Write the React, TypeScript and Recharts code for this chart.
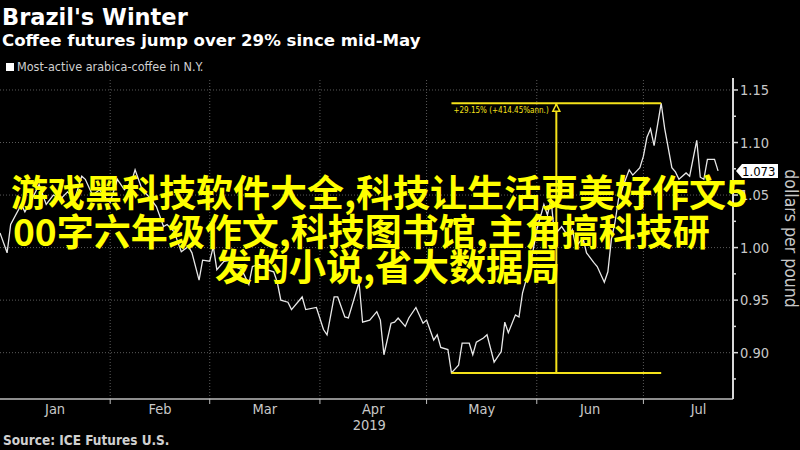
import { LineChart, Line, XAxis, YAxis, ReferenceLine, ReferenceDot } from 'recharts';

// days since Jan 1 2019, most-active arabica coffee ($/lb)
const days = [
  0, 2, 3, 6, 7, 9, 11, 13, 15, 17, 19, 21, 23, 24, 26, 28, 30, 31, 33, 35,
  37, 38, 40, 42, 44, 46, 47, 49, 51, 53, 54, 56, 57, 59, 60, 61, 63, 65, 66, 68,
  70, 71, 73, 75, 77, 78, 79, 81, 82, 85, 86, 89, 91, 92, 94, 95, 97, 98, 101, 102,
  104, 106, 107, 108, 110, 111, 112, 114, 115, 117, 119, 120, 122, 123, 124, 126, 127, 129, 130, 132,
  133, 134, 136, 137, 139, 141, 142, 143, 145, 146, 147, 148, 150, 151, 153, 154, 155, 156, 158, 160,
  161, 162, 164, 165, 167, 168, 170, 171, 172, 173, 174, 176, 177, 178, 180, 181, 182, 183, 184, 186,
  187, 189, 190, 191, 193, 194, 196, 197, 198, 199, 201, 202,
];
const prices = [
  1.014, 0.995, 1.022, 1.041, 1.034, 1.046, 1.06, 1.041, 1.05, 1.046, 1.053, 1.046, 1.068, 1.065, 1.05, 1.055, 1.046, 1.043, 1.065, 1.055,
  1.063, 1.074, 1.055, 1.048, 1.039, 1.02, 1.022, 1.015, 0.996, 1.001, 0.995, 0.969, 0.988, 0.987, 1.001, 0.979, 0.987, 0.988, 0.982, 0.979,
  0.965, 0.982, 0.984, 0.979, 0.977, 0.967, 0.95, 0.948, 0.941, 0.953, 0.941, 0.943, 0.922, 0.917, 0.953, 0.953, 0.934, 0.933, 0.967, 0.929,
  0.931, 0.939, 0.931, 0.898, 0.928, 0.929, 0.933, 0.925, 0.933, 0.943, 0.928, 0.931, 0.912, 0.917, 0.905, 0.903, 0.8807, 0.888, 0.909, 0.909,
  0.898, 0.91, 0.914, 0.917, 0.891, 0.901, 0.929, 0.919, 0.936, 0.934, 0.957, 0.969, 0.998, 1.017, 1.041, 1.031, 1.046, 1.012, 1.02, 1.01,
  1.017, 1.001, 1.009, 0.995, 0.986, 0.982, 0.967, 0.977, 1.008, 1.024, 1.046, 1.065, 1.074, 1.069, 1.076, 1.087, 1.105, 1.113, 1.097, 1.1374,
  1.113, 1.076, 1.072, 1.065, 1.071, 1.068, 1.102, 1.067, 1.065, 1.084, 1.084, 1.073,
];

const monthLabels = ['Jan', 'Feb', 'Mar', 'Apr', 'May', 'Jun', 'Jul'];
const monthStarts = [0, 31, 59, 90, 120, 151, 181];
const monthLengths = [31, 28, 31, 30, 31, 30, 31];
const yearLabel = '2019';
const yearMonth = 'Apr';

const yTicks = [0.875, 0.9, 0.925, 0.95, 0.975, 1.0, 1.025, 1.05, 1.075, 1.1, 1.125, 1.15];
const yGrid = [0.9, 0.95, 1.0, 1.05, 1.1, 1.15];

const title = "Brazil's Winter";
const subtitle = 'Coffee futures jump over 29% since mid-May';
const legendLabel = 'Most-active arabica-coffee in N.Y.';
const unitLabel = 'dollars per pound';
const sourceLabel = 'Source: ICE Futures U.S.';
const annualized = '+414.45%ann.';
const overlayLines = [
  '游戏黑科技软件大全,科技让生活更美好作文5',
  '00字六年级作文,科技图书馆,主角搞科技研',
  '发的小说,省大数据局',
];

const X_MAX = 206.2;
const Y_DOMAIN = [0.8559, 1.1614];
const ANN = '#f5e21a';
const AXIS_FONT = '"DejaVu Sans Condensed", "DejaVu Sans", sans-serif';

const data = days.map((d, i) => ({ day: d, price: prices[i] }));
const monthMids = monthStarts.map((s, i) => s + monthLengths[i] / 2);
const xTicks = [...monthStarts.slice(1), ...monthMids];

// low -> high swing for the annotation
const lowIdx = prices.indexOf(Math.min(...prices));
const afterLow = prices.slice(lowIdx);
const highIdx = lowIdx + afterLow.indexOf(Math.max(...afterLow));
const lowDay = days[lowIdx];
const highDay = days[highIdx];
const lowPrice = prices[lowIdx];
const highPrice = prices[highIdx];
const midDay = (lowDay + highDay) / 2;
const pct = ((highPrice / lowPrice - 1) * 100).toFixed(2);
const lastPrice = prices[prices.length - 1];

const XTick = (props: any) => {
  const { x, y, payload } = props;
  const mi = monthMids.indexOf(payload.value);
  if (mi < 0) {
    return <line x1={x} y1={y} x2={x} y2={y + 5} stroke="#bdbdbd" strokeWidth={1} />;
  }
  return (
    <g fontFamily={AXIS_FONT} fontSize={14.5} fill="#c8c8c8">
      <text x={x} y={y + 15} textAnchor="middle">{monthLabels[mi]}</text>
      {monthLabels[mi] === yearMonth && (
        <text x={x - 4} y={y + 31} textAnchor="middle">{yearLabel}</text>
      )}
    </g>
  );
};

const YTick = (props: any) => {
  const { x, y, payload } = props;
  const v = payload.value;
  const major = Math.round(v * 1000) % 50 === 0;
  return (
    <g>
      <line x1={x} y1={y} x2={x + (major ? 5 : 3)} y2={y} stroke="#d8d8d8" strokeWidth={1.5} />
      {major && (
        <text x={x + 7} y={y + 5} fontFamily={AXIS_FONT} fontSize={14.5} fill="#c8c8c8">
          {v.toFixed(2)}
        </text>
      )}
    </g>
  );
};

const UnitLabel = (props: any) => {
  const vb = props.viewBox;
  const cx = vb.x + vb.width - 15;
  const cy = vb.y + vb.height / 2;
  return (
    <text
      x={cx}
      y={cy}
      transform={`rotate(90, ${cx}, ${cy})`}
      textAnchor="middle"
      fontFamily={AXIS_FONT}
      fontSize={17.5}
      fill="#c8c8c8"
    >
      {unitLabel}
    </text>
  );
};

const ArrowHead = (props: any) => {
  const { cx, cy } = props;
  return (
    <path
      d={`M${cx},${cy + 1} L${cx + 3.5},${cy + 8} L${cx - 3.5},${cy + 8} Z`}
      fill="#000"
      stroke={ANN}
      strokeWidth={1.5}
    />
  );
};

const AnnText = (props: any) => {
  const { cx, cy } = props;
  return (
    <text x={cx + 2} y={cy + 10} fontFamily={AXIS_FONT} fontSize={8} fill={ANN}>
      {`+${pct}% (${annualized})`}
    </text>
  );
};

const LastTag = (props: any) => {
  const { cx, cy } = props;
  return (
    <g>
      <path
        d={`M${cx + 3},${cy} L${cx + 9},${cy - 7} L${cx + 45},${cy - 7} L${cx + 45},${cy + 7} L${cx + 9},${cy + 7} Z`}
        fill="#ffffff"
      />
      <text x={cx + 9} y={cy + 5} fontFamily={AXIS_FONT} fontSize={13} fill="#000">
        {lastPrice.toFixed(3)}
      </text>
    </g>
  );
};

export default function App() {
  return (
    <div
      style={{
        position: 'absolute',
        left: 0,
        top: 0,
        width: 800,
        height: 450,
        background: '#000',
        overflow: 'hidden',
        fontFamily: '"DejaVu Sans", sans-serif',
      }}
    >
      <div style={{ position: 'absolute', left: 2, top: 6, fontSize: 22.5, lineHeight: 1, fontWeight: 700, color: '#fff' }}>
        {title}
      </div>
      <div style={{ position: 'absolute', left: 2, top: 33, fontSize: 16.6, lineHeight: 1, fontWeight: 700, color: '#fff' }}>
        {subtitle}
      </div>
      <div
        style={{
          position: 'absolute',
          left: 6,
          top: 61,
          fontSize: 12.5,
          lineHeight: 1,
          color: '#d0d0d0',
          fontFamily: AXIS_FONT,
          display: 'flex',
          alignItems: 'center',
        }}
      >
        <span style={{ width: 8, height: 8, background: '#fff', marginRight: 3, display: 'inline-block' }} />
        {legendLabel}
      </div>

      <div style={{ position: 'absolute', left: 0, top: 0 }}>
        <LineChart width={800} height={450} data={data} margin={{ top: 78, right: 0, left: 0, bottom: 0 }}>
          <XAxis
            dataKey="day"
            type="number"
            domain={[0, X_MAX]}
            ticks={xTicks}
            interval={0}
            tick={<XTick />}
            tickLine={false}
            tickSize={0}
            tickMargin={0}
            height={51}
            axisLine={{ stroke: '#bdbdbd', strokeWidth: 1.5 }}
            allowDataOverflow
          />
          <YAxis
            orientation="right"
            type="number"
            domain={Y_DOMAIN}
            ticks={yTicks}
            interval={0}
            tick={<YTick />}
            tickLine={false}
            tickSize={0}
            tickMargin={0}
            width={67}
            axisLine={{ stroke: '#d8d8d8', strokeWidth: 2 }}
            allowDataOverflow
            label={{ content: <UnitLabel /> }}
          />
          {monthStarts.slice(1).map((m) => (
            <ReferenceLine key={`v${m}`} x={m} stroke="#5a5a5a" strokeDasharray="1 2" />
          ))}
          {yGrid.map((v) => (
            <ReferenceLine key={`h${v}`} y={v} stroke="#5a5a5a" strokeDasharray="1 2" />
          ))}
          <Line
            dataKey="price"
            type="linear"
            stroke="#e8e8e8"
            strokeWidth={1.3}
            dot={false}
            isAnimationActive={false}
          />
          <ReferenceLine segment={[{ x: lowDay, y: highPrice }, { x: highDay, y: highPrice }]} stroke={ANN} strokeWidth={2} />
          <ReferenceLine segment={[{ x: lowDay, y: lowPrice }, { x: highDay, y: lowPrice }]} stroke={ANN} strokeWidth={2} />
          <ReferenceLine segment={[{ x: midDay, y: lowPrice }, { x: midDay, y: highPrice }]} stroke={ANN} strokeWidth={2} />
          <ReferenceDot x={midDay} y={highPrice} r={4} shape={<ArrowHead />} />
          <ReferenceDot x={lowDay} y={highPrice} r={1} shape={<AnnText />} />
          <ReferenceDot x={X_MAX} y={lastPrice} r={1} ifOverflow="visible" shape={<LastTag />} />
        </LineChart>
      </div>

      <div
        style={{
          position: 'absolute',
          left: 3,
          top: 434,
          fontSize: 13.5,
          lineHeight: 1,
          fontWeight: 700,
          color: '#d0d0d0',
          fontFamily: AXIS_FONT,
        }}
      >
        {sourceLabel}
      </div>

      {overlayLines.map((t, i) => (
        <div
          key={i}
          style={{
            position: 'absolute',
            left: [11, 13, 215][i],
            top: [173, 212, 247][i],
            fontSize: 37,
            lineHeight: 1,
            fontWeight: 700,
            color: '#ffff00',
            fontFamily: '"Noto Sans CJK SC", sans-serif',
            whiteSpace: 'nowrap',
          }}
        >
          {t}
        </div>
      ))}
    </div>
  );
}
